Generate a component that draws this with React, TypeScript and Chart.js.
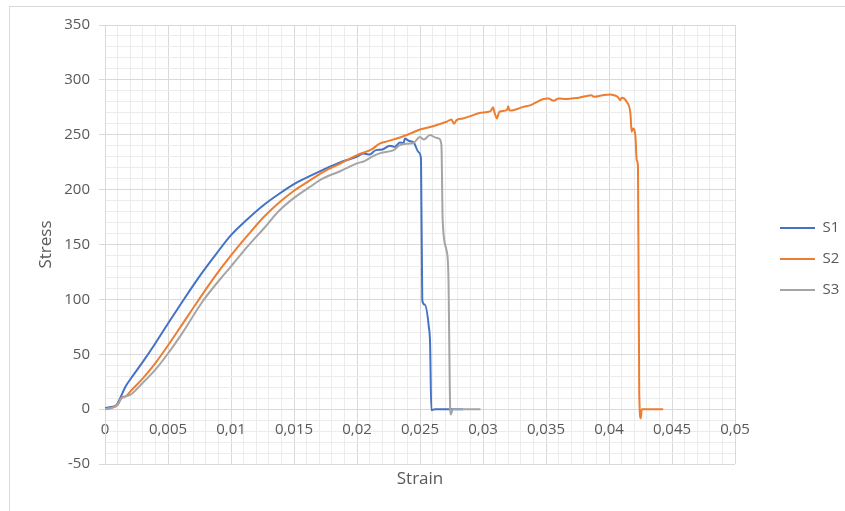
import React, { useEffect, useRef } from 'react';
import { Chart, registerables } from 'chart.js';

Chart.register(...registerables);

// ---- Data ----
const SERIES_NAMES = ['S1', 'S2', 'S3'];

const S1_STRAIN = [0, 0.0005, 0.0009, 0.0012, 0.0016, 0.002, 0.003, 0.004, 0.005, 0.0062, 0.0075, 0.0088, 0.01, 0.0113, 0.0126, 0.0138, 0.015, 0.0162, 0.0173, 0.0187, 0.02, 0.0205, 0.021, 0.0215, 0.022, 0.0226, 0.023, 0.0234, 0.0237, 0.0238, 0.0241, 0.0245, 0.0249, 0.02508, 0.02518, 0.0254, 0.0257, 0.0258, 0.0259, 0.0262, 0.0284];
const S1_STRESS = [1, 2, 3.5, 10, 20, 27, 43, 60, 78, 99, 121, 141, 158.5, 173, 186, 196, 205, 212, 218, 225, 230, 233, 232, 236, 236.5, 240, 239, 243, 242.5, 246.5, 244.5, 243, 234, 228, 99, 95, 75, 60, -1, 0, 0];

const S2_STRAIN = [0, 0.0005, 0.001, 0.0013, 0.0017, 0.002, 0.003, 0.004, 0.005, 0.006, 0.0074, 0.0087, 0.01, 0.0113, 0.0126, 0.0138, 0.015, 0.0162, 0.0173, 0.0187, 0.02, 0.0212, 0.0218, 0.0224, 0.0234, 0.0242, 0.025, 0.0254, 0.0258, 0.0265, 0.0271, 0.0275, 0.0277, 0.0279, 0.0284, 0.029, 0.0298, 0.0306, 0.0308, 0.0309, 0.0311, 0.0313, 0.0319, 0.032, 0.0321, 0.0324, 0.0332, 0.0338, 0.0343, 0.0348, 0.0352, 0.0356, 0.036, 0.0366, 0.037, 0.0377, 0.0381, 0.0386, 0.0388, 0.0395, 0.0401, 0.0404, 0.0407, 0.0409, 0.041, 0.0414, 0.0417, 0.0418, 0.0419, 0.0421, 0.0422, 0.0423, 0.0424, 0.04252, 0.0426, 0.0443];
const S2_STRESS = [0, 1, 4, 10, 12, 16, 28, 42, 58, 75, 99, 120.5, 140, 158, 175, 188, 199, 208, 216, 224, 231.4, 237, 242, 244, 247.5, 251, 254.8, 256, 257, 259.5, 261.8, 264, 260, 263.3, 264.8, 267, 270, 271.5, 275, 271, 264.8, 271, 272.4, 276, 272, 272.4, 275.4, 277, 280, 282.5, 283, 281, 283, 282.5, 283, 284, 285, 286, 284.6, 286, 286.7, 286, 284.5, 281.5, 283.6, 280, 269.4, 252.7, 255.8, 248, 226.9, 220.8, 14.6, -8.5, 0, 0];

const S3_STRAIN = [0, 0.0005, 0.001, 0.0013, 0.002, 0.003, 0.004, 0.005, 0.006, 0.0078, 0.0094, 0.01, 0.0113, 0.0126, 0.0138, 0.015, 0.0162, 0.0173, 0.0187, 0.02, 0.0206, 0.0212, 0.0218, 0.0224, 0.0229, 0.0234, 0.0242, 0.0245, 0.025, 0.0253, 0.0258, 0.0262, 0.0265, 0.0267, 0.0268, 0.0271, 0.02725, 0.0274, 0.02745, 0.0276, 0.0298];
const S3_STRESS = [0, 1, 4, 10, 13, 24, 36, 50.7, 67, 99, 122, 130, 148, 164.6, 180.5, 192.5, 202, 210.2, 217, 223.9, 226, 230, 233, 234.5, 236, 240.5, 242, 242.6, 248, 245.7, 249.7, 247.6, 246.6, 240.5, 172, 145, 123.6, -1, -5, 0, 0];

const SERIES_STRAIN = [S1_STRAIN, S2_STRAIN, S3_STRAIN];
const SERIES_STRESS = [S1_STRESS, S2_STRESS, S3_STRESS];
const SERIES_COLORS = ['#4472C4', '#ED7D31', '#A5A5A5'];

const X_MIN = 0;
const X_MAX = 0.05;
const X_MINOR_STEP = 0.001;
const X_MAJOR_EVERY = 5; // in minor steps
const Y_MIN = -50;
const Y_MAX = 350;
const Y_MINOR_STEP = 10;
const Y_MAJOR = 50;

const X_TITLE = 'Strain';
const Y_TITLE = 'Stress';

const FONT = "'Open Sans', 'Noto Sans', sans-serif";
const TEXT = '#595959';
const MAJOR_GRID = '#d9d9d9';
const MINOR_GRID = '#ececec';

const xIsMajor = (v: number) => Math.round(v / X_MINOR_STEP) % X_MAJOR_EVERY === 0;
const yIsMajor = (v: number) => Math.round(v) % Y_MAJOR === 0;
const fmtX = (v: number) => String(Math.round(v / X_MINOR_STEP) / 1000).replace('.', ',');

const framePlugin = {
  id: 'frame',
  beforeDraw(chart: any) {
    const { ctx, width, height } = chart;
    ctx.save();
    ctx.fillStyle = '#ffffff';
    ctx.fillRect(0, 0, width, height);
    ctx.strokeStyle = '#d9d9d9';
    ctx.lineWidth = 1;
    ctx.strokeRect(9.5, 6.5, 2000, 2000);
    ctx.restore();
  },
};

export default function App() {
  const canvasRef = useRef<HTMLCanvasElement | null>(null);

  useEffect(() => {
    if (!canvasRef.current) return;
    const datasets = SERIES_NAMES.map((name, i) => ({
      label: name,
      data: SERIES_STRAIN[i].map((x, j) => ({ x, y: SERIES_STRESS[i][j] })),
      borderColor: SERIES_COLORS[i],
      backgroundColor: SERIES_COLORS[i],
      borderWidth: 2,
      pointRadius: 0,
      cubicInterpolationMode: 'monotone',
      fill: false,
      xAxisID: 'x',
      yAxisID: 'y',
      order: SERIES_NAMES.length - i,
    }));

    const chart = new Chart(canvasRef.current, {
      type: 'line',
      data: { datasets },
      plugins: [framePlugin],
      options: {
        animation: false,
        responsive: false,
        maintainAspectRatio: false,
        events: [],
        layout: { padding: { left: 0, right: 0, top: 25, bottom: 18 } },
        plugins: {
          tooltip: { enabled: false },
          legend: {
            display: true,
            position: 'right',
            align: 'center',
            maxWidth: 81,
            labels: {
              usePointStyle: true,
              pointStyle: 'line',
              pointStyleWidth: 35,
              padding: 16,
              color: TEXT,
              font: { family: FONT, size: 15 },
              sort: (a: any, b: any) => a.datasetIndex - b.datasetIndex,
            },
          },
        },
        scales: {
          x: {
            type: 'linear',
            position: { y: 0 },
            min: X_MIN,
            max: X_MAX,
            ticks: {
              stepSize: X_MINOR_STEP,
              autoSkip: false,
              maxRotation: 0,
              padding: 12,
              color: TEXT,
              font: { family: FONT, size: 15 },
              callback: (v: any) => (xIsMajor(Number(v)) ? fmtX(Number(v)) : ''),
            },
            grid: {
              drawTicks: false,
              color: (c: any) => (c.tick && xIsMajor(c.tick.value) ? MAJOR_GRID : MINOR_GRID),
              lineWidth: 1,
            },
            border: { display: true, color: MAJOR_GRID, width: 1 },
            title: { display: false },
          },
          x2: {
            type: 'linear',
            position: 'bottom',
            display: true,
            grid: { display: false },
            border: { display: false },
            ticks: { display: false },
            title: {
              display: true,
              text: X_TITLE,
              color: TEXT,
              font: { family: FONT, size: 17 },
              padding: { top: 0, bottom: 4 },
            },
            afterFit: (s: any) => {
              s.height = 29;
            },
          },
          y: {
            type: 'linear',
            position: 'left',
            min: Y_MIN,
            max: Y_MAX,
            ticks: {
              stepSize: Y_MINOR_STEP,
              autoSkip: false,
              padding: 9,
              color: TEXT,
              font: { family: FONT, size: 15 },
              callback: (v: any) => (yIsMajor(Number(v)) ? String(v) : ''),
            },
            grid: {
              color: (c: any) => (c.tick && yIsMajor(c.tick.value) ? MAJOR_GRID : MINOR_GRID),
              tickColor: (c: any) => (c.tick && yIsMajor(c.tick.value) ? MAJOR_GRID : 'rgba(0,0,0,0)'),
              tickLength: 6,
              lineWidth: 1,
            },
            border: { display: true, color: MAJOR_GRID, width: 1 },
            title: {
              display: true,
              text: Y_TITLE,
              color: TEXT,
              font: { family: FONT, size: 17 },
              padding: { top: 36, bottom: 0 },
            },
            afterFit: (s: any) => {
              s.width = 105;
            },
          },
          y2: {
            type: 'linear',
            position: 'right',
            display: true,
            grid: { display: false },
            border: { display: false },
            ticks: { display: false },
            afterFit: (s: any) => {
              s.width = 29;
            },
          },
        },
      } as any,
    });
    return () => chart.destroy();
  }, []);

  return (
    <div style={{ position: 'fixed', left: 0, top: 0, width: 845, height: 511, background: '#fff' }}>
      <canvas ref={canvasRef} width={845} height={511} style={{ display: 'block', width: 845, height: 511 }} />
    </div>
  );
}
